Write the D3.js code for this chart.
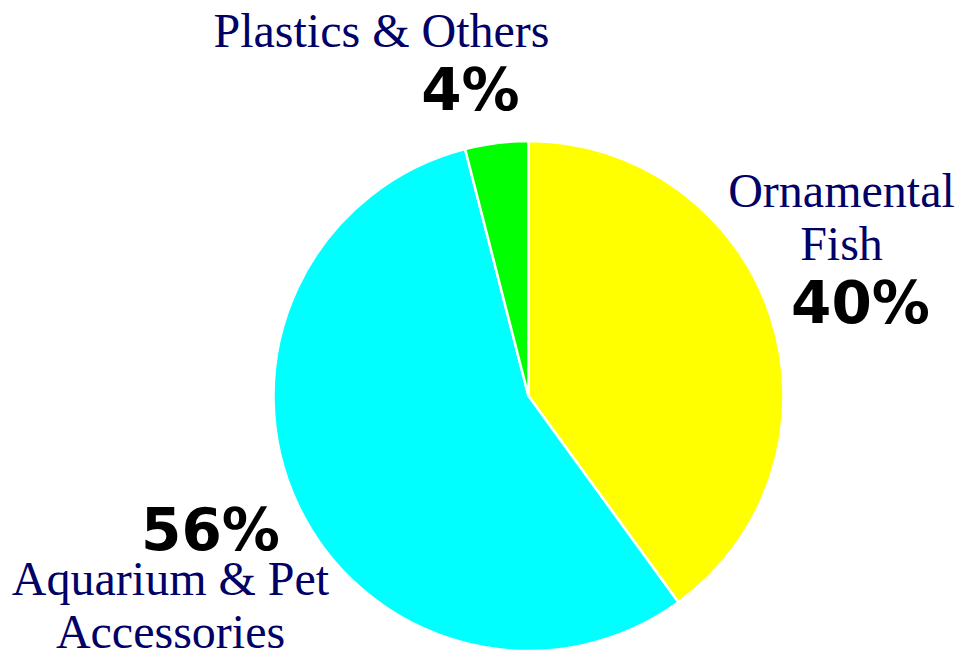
<!DOCTYPE html>
<html>
<head>
<meta charset="utf-8">
<script src="https://cdn.jsdelivr.net/npm/d3@7"></script>
<style>
  html, body { margin: 0; padding: 0; background: #ffffff; }
  svg { display: block; }
</style>
</head>
<body>
<svg id="chart" width="962" height="659"></svg>
<script>
// Share of sales by segment
const categories = ["Ornamental Fish", "Aquarium & Pet Accessories", "Plastics & Others"];
const shares = [40, 56, 4];
const sliceColors = ["#ffff00", "#00ffff", "#00ff00"];
// Category names broken into display lines
const nameLines = [["Ornamental", "Fish"], ["Aquarium & Pet", "Accessories"], ["Plastics & Others"]];

const svg = d3.select("#chart");
const cx = 528.5, cy = 396, radius = 255;

const pie = d3.pie().sort(null).value(d => d)(shares);
const arc = d3.arc().innerRadius(0).outerRadius(radius);

const g = svg.append("g").attr("transform", `translate(${cx},${cy})`);

g.selectAll("path.slice")
  .data(pie)
  .join("path")
  .attr("class", "slice")
  .attr("d", arc)
  .attr("fill", (d, i) => sliceColors[i])
  .attr("stroke", "#ffffff")
  .attr("stroke-width", 2.5)
  .attr("stroke-linejoin", "round");

// Label placement per slice (relative to the pie centre)
const labelLayout = [
  { nameX: 313, nameY: -189, pctX: 332, pctY: -73 },
  { nameX: -358, nameY: 199, pctX: -318, pctY: 154 },
  { nameX: -147, nameY: -349, pctX: -58, pctY: -286 }
];

const serif = "'Liberation Serif', 'Times New Roman', Times, serif";
const sans = "'DejaVu Sans', Verdana, sans-serif";
const lineGap = 53;

pie.forEach((d, i) => {
  const L = labelLayout[i];
  const names = nameLines[i];
  names.forEach((line, k) => {
    g.append("text")
      .attr("x", L.nameX)
      .attr("y", L.nameY + k * lineGap)
      .attr("text-anchor", "middle")
      .attr("font-family", serif)
      .attr("font-size", 48)
      .attr("fill", "#000066")
      .text(line);
  });
  g.append("text")
    .attr("x", L.pctX)
    .attr("y", L.pctY)
    .attr("text-anchor", "middle")
    .attr("font-family", sans)
    .attr("font-weight", "bold")
    .attr("font-size", 58)
    .attr("fill", "#000000")
    .text(d3.format(".0f")(d.data) + "%");
});
</script>
</body>
</html>
